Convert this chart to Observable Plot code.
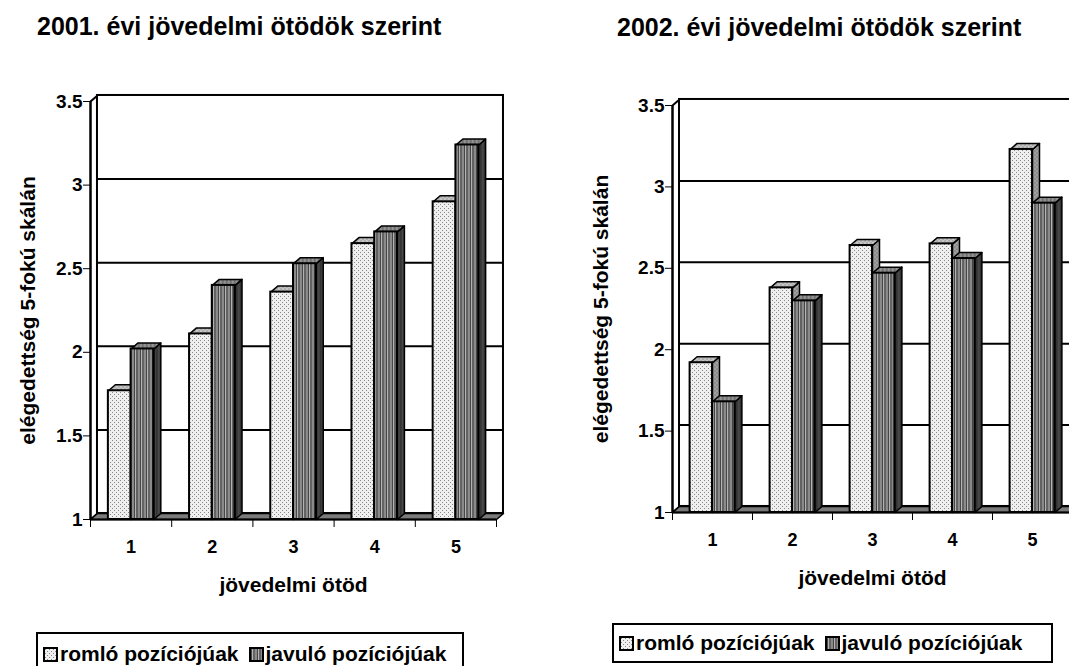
<!DOCTYPE html>
<html>
<head>
<meta charset="utf-8">
<script src="https://cdn.jsdelivr.net/npm/d3@7"></script>
<script src="https://cdn.jsdelivr.net/npm/@observablehq/plot@0.6"></script>
<style>
html, body { margin: 0; padding: 0; background: #fff; overflow: hidden; }
#root { position: relative; width: 1069px; height: 666px; overflow: hidden; background: #fff;
  font-family: "Liberation Sans", Arial, sans-serif; color: #000; }
.title { position: absolute; font-weight: bold; font-size: 25px; line-height: 25px; white-space: nowrap; }
.chart { position: absolute; }
.chart svg { max-width: none !important; overflow: visible; }
.legend { position: absolute; box-sizing: border-box; border: 2px solid #000; background: #fff;
  font-weight: bold; font-size: 21px; white-space: nowrap; display: flex; align-items: center; }
.legend .item { display: flex; align-items: center; margin-right: 10px; }
.legend svg { display: block; margin-right: 2px; }
</style>
</head>
<body>
<div id="root"></div>
<script>
// ---------------- data ----------------
const categories = [1, 2, 3, 4, 5];
const categoryBounds = [0.5, 1.5, 2.5, 3.5, 4.5, 5.5];
const seriesLabels = ["romló pozíciójúak", "javuló pozíciójúak"];
const romlo2001 = [1.77, 2.11, 2.36, 2.65, 2.90];
const javulo2001 = [2.02, 2.40, 2.53, 2.72, 3.24];
const romlo2002 = [1.92, 2.38, 2.64, 2.65, 3.23];
const javulo2002 = [1.68, 2.30, 2.47, 2.56, 2.90];
const yTicks = [1, 1.5, 2, 2.5, 3, 3.5];
const yTickLabels = ["1", "1.5", "2", "2.5", "3", "3.5"];
const titles = ["2001. évi jövedelmi ötödök szerint", "2002. évi jövedelmi ötödök szerint"];
const xTitle = "jövedelmi ötöd";
const yTitle = "elégedettség 5-fokú skálán";

const root = document.getElementById("root");

function addDefs(svg, p) {
  const defs = d3.select(svg).insert("defs", ":first-child");
  const dots = (name, bg, fg) => {
    const pat = defs.append("pattern").attr("id", `${p}-${name}`)
      .attr("patternUnits", "userSpaceOnUse").attr("width", 4).attr("height", 4);
    pat.append("rect").attr("width", 4).attr("height", 4).attr("fill", bg);
    pat.append("rect").attr("x", 0).attr("y", 0).attr("width", 1).attr("height", 1).attr("fill", fg);
    pat.append("rect").attr("x", 2).attr("y", 2).attr("width", 1).attr("height", 1).attr("fill", fg);
  };
  const stripes = (name, cols) => {
    const w = d3.sum(cols, c => c[1]);
    const pat = defs.append("pattern").attr("id", `${p}-${name}`)
      .attr("patternUnits", "userSpaceOnUse").attr("width", w).attr("height", 4);
    let x = 0;
    cols.forEach(([c, cw]) => {
      pat.append("rect").attr("x", x).attr("y", 0).attr("width", cw).attr("height", 4).attr("fill", c);
      x += cw;
    });
  };
  dots("dotsF", "#efefef", "#888888");
  dots("dotsT", "#c4c4c4", "#6a6a6a");
  dots("dotsS", "#a0a0a0", "#505050");
  stripes("strF", [["#8a8a8a", 2], ["#454545", 1], ["#b4b4b4", 1], ["#636363", 2]]);
  stripes("strT", [["#8a8a8a", 2], ["#5a5a5a", 1], ["#9c9c9c", 1]]);
  stripes("strS", [["#3a3a3a", 2], ["#575757", 1], ["#2c2c2c", 1]]);
}

function makeChart(cfg) {
  const { p, romlo, javulo, left, top, width, height, marginLeft, marginRight, marginTop, marginBottom,
    depthX, depthY, barW, yLabelDx, tickDy, titleDy } = cfg;
  const x0 = categoryBounds[0], x1 = categoryBounds[categoryBounds.length - 1];
  const yMin = yTicks[0], yMax = yTicks[yTicks.length - 1];

  const bars = [];
  categories.forEach((c, i) => {
    bars.push({ s: 0, key: `r${c}`, xa: c - barW, xb: c, v: romlo[i] });
    bars.push({ s: 1, key: `j${c}`, xa: c, xb: c + barW, v: javulo[i] });
  });
  const poly = (key, pts) => pts.map(([x, y]) => ({ key, x, y }));
  const sideOf = b => poly(b.key, [[b.xb, yMin], [b.xb, b.v], [b.xb + depthX, b.v + depthY], [b.xb + depthX, yMin + depthY]]);
  const topOf = b => poly(b.key, [[b.xa, b.v], [b.xb, b.v], [b.xb + depthX, b.v + depthY], [b.xa + depthX, b.v + depthY]]);
  const polyOpts = (fill, sw = 1.5) => ({ x: "x", y: "y", z: "key", curve: "linear-closed", fill, stroke: "#000", strokeWidth: sw, strokeLinejoin: "round" });

  const leftWall = poly("lw", [[x0, yMin], [x0, yMax], [x0 + depthX, yMax + depthY], [x0 + depthX, yMin + depthY]]);
  const floor = poly("fl", [[x0, yMin], [x1, yMin], [x1 + depthX, yMin + depthY], [x0 + depthX, yMin + depthY]]);

  const fills = [
    { side: `url(#${p}-dotsS)`, top: `url(#${p}-dotsT)`, front: `url(#${p}-dotsF)` },
    { side: `url(#${p}-strS)`, top: `url(#${p}-strT)`, front: `url(#${p}-strF)` }
  ];

  const barMarks = [];
  [0, 1].forEach(s => {
    const bs = bars.filter(b => b.s === s);
    barMarks.push(Plot.line(bs.flatMap(sideOf), polyOpts(fills[s].side)));
    barMarks.push(Plot.line(bs.flatMap(topOf), polyOpts(fills[s].top)));
    barMarks.push(Plot.rect(bs, { x1: "xa", x2: "xb", y1: yMin, y2: "v", fill: fills[s].front, stroke: "#000", strokeWidth: 2 }));
  });

  const bold = { fontWeight: "bold", fill: "#000", fontFamily: "'Liberation Sans', Arial, sans-serif" };
  const svg = Plot.plot({
    width, height, marginLeft, marginRight, marginTop, marginBottom,
    style: { fontFamily: "'Liberation Sans', Arial, sans-serif", fontSize: "19px", color: "#000", background: "transparent", overflow: "visible" },
    x: { type: "linear", domain: [x0, x1], ticks: categoryBounds, tickFormat: () => "", tickSize: 8, label: null },
    y: { type: "linear", domain: [yMin, yMax], ticks: yTicks, tickFormat: () => "", tickSize: 7, label: null },
    marks: [
      Plot.line(leftWall, polyOpts("#fff", 2)),
      Plot.rect([0], { x1: x0 + depthX, x2: x1 + depthX, y1: yMin + depthY, y2: yMax + depthY, fill: "#fff", stroke: "#000", strokeWidth: 2 }),
      Plot.ruleY(yTicks.slice(1, -1), { y: d => d + depthY, x1: x0 + depthX, x2: x1 + depthX, stroke: "#000", strokeWidth: 2 }),
      Plot.line(floor, polyOpts("#7a7a7a", 1.5)),
      ...barMarks,
      Plot.ruleX([x0], { y1: yMin, y2: yMax, stroke: "#000", strokeWidth: 2 }),
      Plot.ruleY([yMin], { x1: x0, x2: x1, stroke: "#000", strokeWidth: 2 }),
      Plot.text(yTicks, { x: x0, y: d => d, dx: -8, textAnchor: "end", text: (d, i) => yTickLabels[i], fontSize: 19, ...bold }),
      Plot.text(categories, { x: d => d, y: yMin, dy: tickDy, text: d => String(d), fontSize: 18, ...bold }),
      Plot.text([xTitle], { x: (x0 + x1) / 2, y: yMin, dy: titleDy, text: d => d, fontSize: 21, ...bold }),
      Plot.text([yTitle], { x: x0, y: (yMin + yMax) / 2, dx: yLabelDx, rotate: -90, text: d => d, fontSize: 21, ...bold })
    ]
  });
  addDefs(svg, p);
  const div = document.createElement("div");
  div.className = "chart";
  div.style.left = left + "px";
  div.style.top = top + "px";
  div.style.width = width + "px";
  div.style.height = height + "px";
  div.appendChild(svg);
  root.appendChild(div);
}

function addTitle(text, left, top) {
  const d = document.createElement("div");
  d.className = "title";
  d.style.left = left + "px";
  d.style.top = top + "px";
  d.textContent = text;
  root.appendChild(d);
}

function addLegend(p, left, top, width, height, padLeft) {
  const d = document.createElement("div");
  d.className = "legend";
  Object.assign(d.style, { left: left + "px", top: top + "px", width: width + "px", height: height + "px", paddingLeft: padLeft + "px" });
  const fillsL = [`url(#${p}-dotsF)`, `url(#${p}-strF)`];
  seriesLabels.forEach((lab, i) => {
    const it = document.createElement("span");
    it.className = "item";
    it.innerHTML = `<svg width="15" height="15"><rect x="1" y="1" width="13" height="13" fill="${fillsL[i]}" stroke="#000" stroke-width="2"/></svg>`;
    const t = document.createElement("span");
    t.textContent = lab;
    it.appendChild(t);
    d.appendChild(it);
  });
  root.appendChild(d);
}

addTitle(titles[0], 37, 14);
addTitle(titles[1], 617, 15);

makeChart({ p: "c0", romlo: romlo2001, javulo: javulo2001, left: 0, top: 80, width: 540, height: 530,
  marginLeft: 90, marginRight: 44, marginTop: 21, marginBottom: 91,
  depthX: 0.086, depthY: 0.036, barW: 0.28, yLabelDx: -62, tickDy: 28, titleDy: 66 });

makeChart({ p: "c1", romlo: romlo2002, javulo: javulo2002, left: 580, top: 80, width: 520, height: 530,
  marginLeft: 92, marginRight: 28, marginTop: 25, marginBottom: 98,
  depthX: 0.0875, depthY: 0.037, barW: 0.28, yLabelDx: -71, tickDy: 28, titleDy: 66 });

addLegend("c0", 36, 632, 428, 44, 5);
addLegend("c1", 612, 623, 441, 40, 5);
</script>
</body>
</html>
